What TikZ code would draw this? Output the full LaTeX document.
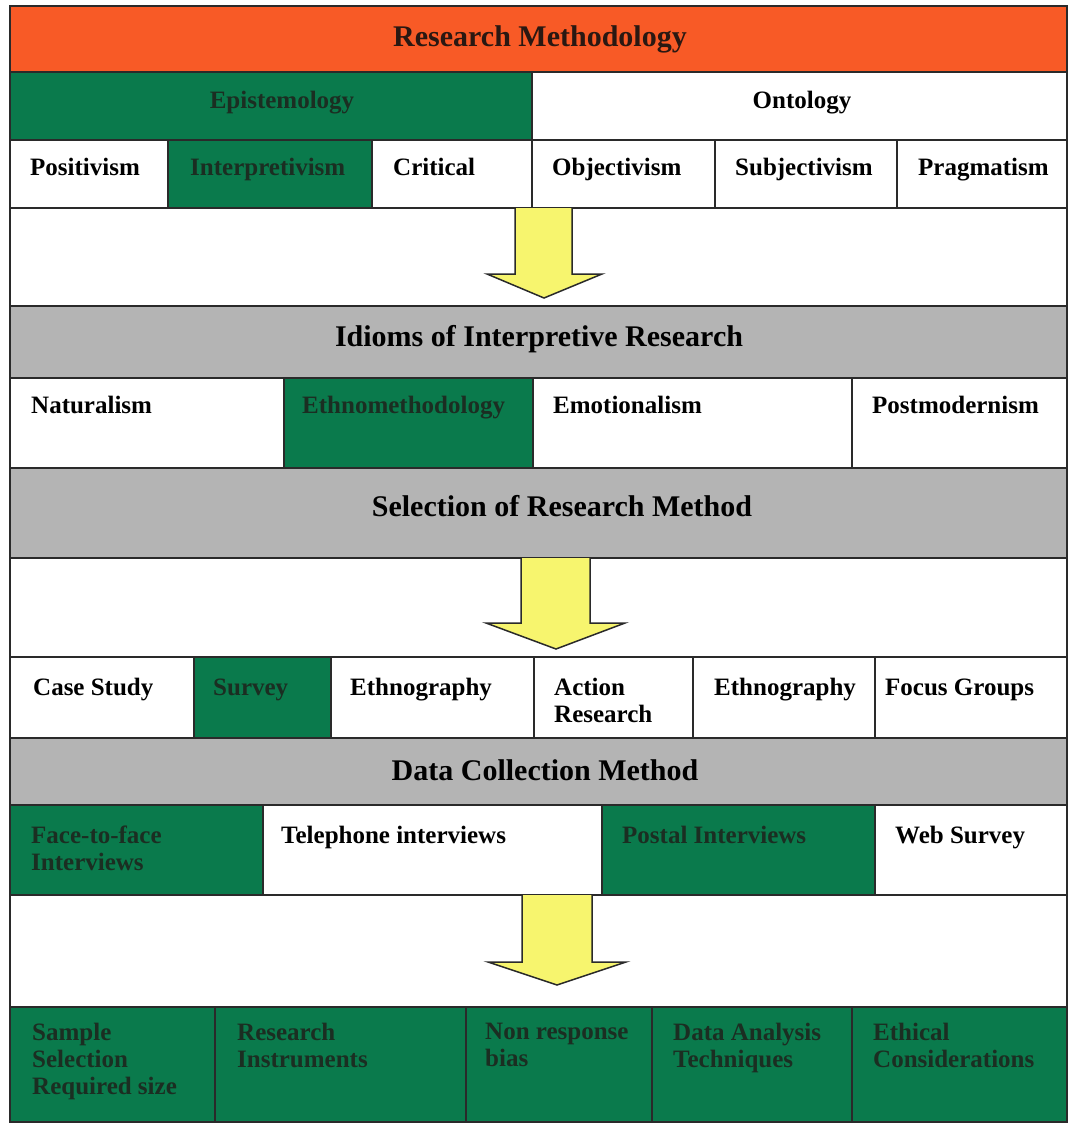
\documentclass[tikz,border=0pt]{standalone}
\usepackage{fontspec}
\setmainfont{Liberation Serif}
\definecolor{orangeband}{HTML}{F85A26}
\definecolor{greencell}{HTML}{0A7A4C}
\definecolor{greyband}{HTML}{B4B4B4}
\definecolor{arrowyellow}{HTML}{F7F56E}
\definecolor{edgecol}{HTML}{2A2A2A}
\definecolor{greentext}{HTML}{1B2E22}
\definecolor{orangetext}{HTML}{2A1812}
\newcommand\mkcell[6]{\node[box,#6,minimum width={(#4-#2)*1pt},minimum height={(#5-#3)*1pt},anchor=north west] (#1) at (#2,#3) {};}
\begin{document}
\begin{tikzpicture}[x=1pt,y=-1pt,
  box/.style={draw=edgecol,line width=1.5pt,inner sep=0pt,outer sep=0pt},
  wcell/.style={fill=white},
  gcell/.style={fill=greencell},
  grey/.style={fill=greyband},
  orng/.style={fill=orangeband},
  txt/.style={inner sep=0pt,font=\fontsize{25}{27}\selectfont\bfseries,text=black},
  gtxt/.style={txt,text=greentext},
  htxt/.style={inner sep=0pt,font=\fontsize{30}{32}\selectfont\bfseries,text=black},
  bigarrow/.style={draw=edgecol,line width=1.5pt,fill=arrowyellow,line join=miter}]
\useasboundingbox[fill=white] (0,0) rectangle (1069,1124);
% Row 1
\mkcell{rm}{10}{6}{1067}{72}{orng}
\node[htxt,text=orangetext] (rmt) at (540,39) {Research Methodology};
% Row 2
\mkcell{epi}{10}{72}{532}{140}{gcell}
\mkcell{ont}{532}{72}{1067}{140}{wcell}
\node[gtxt,anchor=base] (epit) at (282,108) {Epistemology};
\node[txt,anchor=base] (ontt) at (802,108) {Ontology};
% Row 3
\mkcell{pos}{10}{140}{168}{208}{wcell}
\mkcell{int}{168}{140}{372}{208}{gcell}
\mkcell{cri}{372}{140}{532}{208}{wcell}
\mkcell{obj}{532}{140}{715}{208}{wcell}
\mkcell{sub}{715}{140}{897}{208}{wcell}
\mkcell{pra}{897}{140}{1067}{208}{wcell}
\node[txt,anchor=base west] (post) at (30,175) {Positivism};
\node[gtxt,anchor=base west] (intt) at (190,175) {Interpretivism};
\node[txt,anchor=base west] (crit) at (393,175) {Critical};
\node[txt,anchor=base west] (objt) at (552,175) {Objectivism};
\node[txt,anchor=base west] (subt) at (735,175) {Subjectivism};
\node[txt,anchor=base west] (prat) at (918,175) {Pragmatism};
% Arrow area 1
\mkcell{a1}{10}{208}{1067}{306}{wcell}
\draw[bigarrow] (515,208) -- (515,274) -- (487,274) -- (544,298) -- (602,274) -- (572,274) -- (572,208);
% Row 4
\mkcell{idi}{10}{306}{1067}{378}{grey}
\node[htxt,anchor=base] (idit) at (539,346) {Idioms of Interpretive Research};
% Row 5
\mkcell{nat}{10}{378}{284}{468}{wcell}
\mkcell{eth}{284}{378}{533}{468}{gcell}
\mkcell{emo}{533}{378}{852}{468}{wcell}
\mkcell{pmo}{852}{378}{1067}{468}{wcell}
\node[txt,anchor=base west] (natt) at (31,413) {Naturalism};
\node[gtxt,anchor=base west] (etht) at (302,413) {Ethnomethodology};
\node[txt,anchor=base west] (emot) at (553,413) {Emotionalism};
\node[txt,anchor=base west] (pmot) at (872,413) {Postmodernism};
% Row 6
\mkcell{sel}{10}{468}{1067}{558}{grey}
\node[htxt,anchor=base] (selt) at (562,516) {Selection of Research Method};
% Arrow area 2
\mkcell{a2}{10}{558}{1067}{657}{wcell}
\draw[bigarrow] (521,558) -- (521,623) -- (486,623) -- (556,649) -- (625,623) -- (590,623) -- (590,558);
% Row 7
\mkcell{cas}{10}{657}{194}{738}{wcell}
\mkcell{sur}{194}{657}{331}{738}{gcell}
\mkcell{etg}{331}{657}{534}{738}{wcell}
\mkcell{act}{534}{657}{693}{738}{wcell}
\mkcell{etg2}{693}{657}{875}{738}{wcell}
\mkcell{foc}{875}{657}{1067}{738}{wcell}
\node[txt,anchor=base west] (cast) at (33,695) {Case Study};
\node[gtxt,anchor=base west] (surt) at (213,695) {Survey};
\node[txt,anchor=base west] (etgt) at (350,695) {Ethnography};
\node[txt,anchor=north west,align=left] (actt) at (554,678) {Action\\Research};
\node[txt,anchor=base west] (etg2t) at (714,695) {Ethnography};
\node[txt,anchor=base west] (foct) at (885,695) {Focus Groups};
% Row 8
\mkcell{dcm}{10}{738}{1067}{805}{grey}
\node[htxt,anchor=base] (dcmt) at (545,780) {Data Collection Method};
% Row 9
\mkcell{ftf}{10}{805}{263}{895}{gcell}
\mkcell{tel}{263}{805}{602}{895}{wcell}
\mkcell{pst}{602}{805}{875}{895}{gcell}
\mkcell{web}{875}{805}{1067}{895}{wcell}
\node[gtxt,anchor=north west,align=left] (ftft) at (31,826) {Face-to-face\\Interviews};
\node[txt,anchor=base west] (telt) at (281,843) {Telephone interviews};
\node[gtxt,anchor=base west] (pstt) at (622,843) {Postal Interviews};
\node[txt,anchor=base west] (webt) at (895,843) {Web Survey};
% Arrow area 3
\mkcell{a3}{10}{895}{1067}{1007}{wcell}
\draw[bigarrow] (522,895) -- (522,962) -- (488,962) -- (557,985) -- (626,962) -- (592,962) -- (592,895);
% Row 10
\mkcell{sam}{10}{1007}{215}{1122}{gcell}
\mkcell{ins}{215}{1007}{466}{1122}{gcell}
\mkcell{non}{466}{1007}{652}{1122}{gcell}
\mkcell{dat}{652}{1007}{852}{1122}{gcell}
\mkcell{ethc}{852}{1007}{1067}{1122}{gcell}
\node[gtxt,anchor=north west,align=left] (samt) at (32,1023) {Sample\\Selection\\Required size};
\node[gtxt,anchor=north west,align=left] (inst) at (237,1023) {Research\\Instruments};
\node[gtxt,anchor=north west,align=left] (nont) at (485,1023) {Non response\\bias};
\node[gtxt,anchor=north west,align=left] (datt) at (673,1023) {Data Analysis\\Techniques};
\node[gtxt,anchor=north west,align=left] (ethct) at (873,1023) {Ethical\\Considerations};
\end{tikzpicture}
\end{document}
